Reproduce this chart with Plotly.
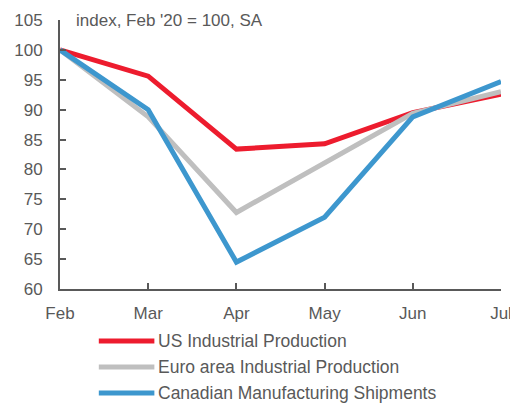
import plotly.graph_objects as go

# Index levels, Feb 2020 = 100, seasonally adjusted
months = ["Feb", "Mar", "Apr", "May", "Jun", "Jul"]
us_ip = [100, 95.6, 83.4, 84.3, 89.5, 92.6]
euro_ip = [100, 88.8, 72.8, 81.0, 89.4, 93.0]
cad_mfg = [100, 90.0, 64.5, 72.0, 88.8, 94.7]

series = [
    ("US Industrial Production", us_ip, "#ED1C2E"),
    ("Euro area Industrial Production", euro_ip, "#BFBFBF"),
    ("Canadian Manufacturing Shipments", cad_mfg, "#3D97CE"),
]

GREY = "#595959"
FONT = "Liberation Sans, Arial, sans-serif"

fig = go.Figure()
for name, vals, col in series:
    fig.add_trace(go.Scatter(x=months, y=vals, mode="lines", name=name,
                             line=dict(color=col, width=5)))

# legend drawn by hand below the plot (it runs off the bottom edge in the original)
annotations = [dict(text="index, Feb '20 = 100, SA", xref="paper", yref="paper",
                    x=0.032, y=1.0, xanchor="left", yanchor="middle",
                    showarrow=False, font=dict(size=17, color=GREY))]
shapes = []
for i, (name, vals, col) in enumerate(series):
    yy = -0.193 - i * 0.097
    shapes.append(dict(type="line", xref="paper", yref="paper",
                       x0=0.088, x1=0.214, y0=yy, y1=yy,
                       line=dict(color=col, width=5)))
    annotations.append(dict(text=name, xref="paper", yref="paper",
                            x=0.218, y=yy, xanchor="left", yanchor="middle",
                            showarrow=False, font=dict(size=17.5, color=GREY)))

# page body adds an 8px offset, so margins are trimmed to land the axes in place
fig.update_layout(
    width=518, height=404,
    margin=dict(l=52, r=25, t=12, b=123, autoexpand=False),
    paper_bgcolor="white", plot_bgcolor="white",
    font=dict(family=FONT, size=17, color=GREY),
    showlegend=False,
    annotations=annotations,
    shapes=shapes,
)
fig.update_xaxes(range=[0, 5], showline=True, linecolor=GREY, linewidth=2,
                 ticks="inside", ticklen=6, tickcolor=GREY, tickwidth=2,
                 showgrid=False, zeroline=False, ticklabelstandoff=8,
                 automargin=False)
fig.update_yaxes(range=[60, 105], dtick=5, showline=True, linecolor=GREY, linewidth=2,
                 ticks="inside", ticklen=6, tickcolor=GREY, tickwidth=2,
                 showgrid=False, zeroline=False, ticklabelstandoff=12,
                 automargin=False)

fig.write_html("out.html")
